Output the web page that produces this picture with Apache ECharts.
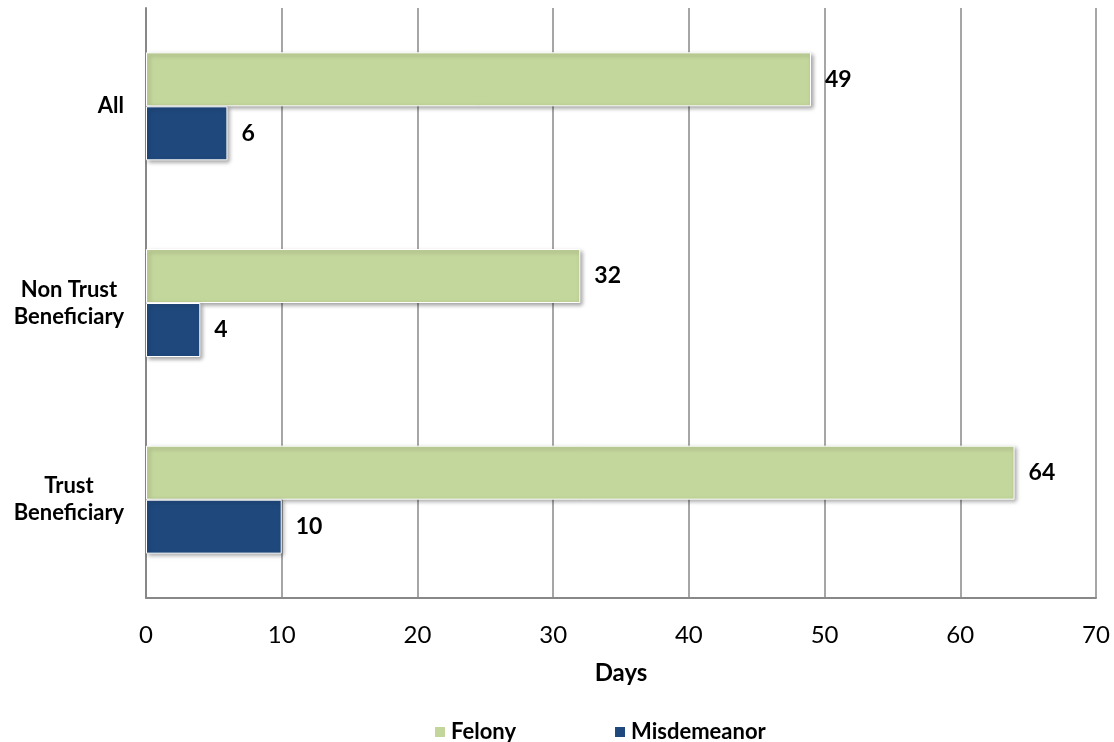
<!DOCTYPE html>
<html>
<head>
    <meta charset="utf-8">
    <title>Days</title>
    <script src="https://cdn.jsdelivr.net/npm/echarts@6/dist/echarts.min.js"></script>
    <style>
        html, body { margin: 0; padding: 0; background: #fff; }
        #chart1 { width: 1114px; height: 742px; }
    </style>
</head>
<body>
<div id="chart1"></div>
<script>
    // 数据
    var categories = ['Trust Beneficiary', 'Non Trust Beneficiary', 'All'];
    var felony = [64, 32, 49];
    var misdemeanor = [10, 4, 6];
    var xTicks = [0, 10, 20, 30, 40, 50, 60, 70];

    var font = 'Lato, "Open Sans", sans-serif';
    var shadow = {
        shadowBlur: 4,
        shadowOffsetX: 2,
        shadowOffsetY: 2,
        shadowColor: 'rgba(0,0,0,0.35)'
    };

    var myChart1 = echarts.init(document.getElementById('chart1'));
    myChart1.setOption({
        animation: false,
        textStyle: { fontFamily: font },
        grid: { left: 146, right: 18, top: 8, bottom: 144 },
        legend: {
            data: ['Felony', 'Misdemeanor'],
            left: 428,
            top: 716,
            itemWidth: 12,
            itemHeight: 12,
            itemGap: 97,
            icon: 'rect',
            textStyle: { fontSize: 22, fontWeight: 'bold', color: '#000', fontFamily: font }
        },
        xAxis: {
            type: 'value',
            min: xTicks[0],
            max: xTicks[xTicks.length - 1],
            interval: 10,
            name: 'Days',
            nameLocation: 'middle',
            nameGap: 63,
            nameTextStyle: { fontSize: 24, fontWeight: 'bold', color: '#000' },
            axisLine: { show: true, lineStyle: { color: '#888', width: 2 } },
            axisTick: { show: false },
            axisLabel: { fontSize: 24, color: '#000', margin: 25 },
            splitLine: { show: true, lineStyle: { color: '#888', width: 1.5 } }
        },
        yAxis: {
            type: 'category',
            data: categories,
            axisLine: { show: true, lineStyle: { color: '#888', width: 2 } },
            axisTick: { show: false },
            axisLabel: {
                margin: 22,
                fontSize: 22,
                fontWeight: 'bold',
                color: '#000',
                lineHeight: 27,
                formatter: function (v) {
                    if (v === 'All') return v;
                    var parts = v === 'Trust Beneficiary' ? ['Trust', 'Beneficiary'] : ['Non Trust', 'Beneficiary'];
                    return '{c|' + parts[0] + '}\n{c|' + parts[1] + '}';
                },
                rich: {
                    c: { width: 110, align: 'center', fontSize: 22, fontWeight: 'bold', color: '#000', lineHeight: 27 }
                }
            }
        },
        series: [
            {
                name: 'Felony',
                type: 'bar',
                data: felony,
                barWidth: 54,
                barGap: '0%',
                itemStyle: Object.assign({ color: '#c3d69b', borderColor: '#fff', borderWidth: 1 }, shadow),
                label: { show: true, position: 'right', distance: 14, fontSize: 23, fontWeight: 'bold', color: '#000' }
            },
            {
                name: 'Misdemeanor',
                type: 'bar',
                data: misdemeanor,
                barWidth: 54,
                barGap: '0%',
                itemStyle: Object.assign({ color: '#1f497d', borderColor: '#fff', borderWidth: 1 }, shadow),
                label: { show: true, position: 'right', distance: 14, fontSize: 23, fontWeight: 'bold', color: '#000' }
            }
        ]
    });
</script>
</body>
</html>
